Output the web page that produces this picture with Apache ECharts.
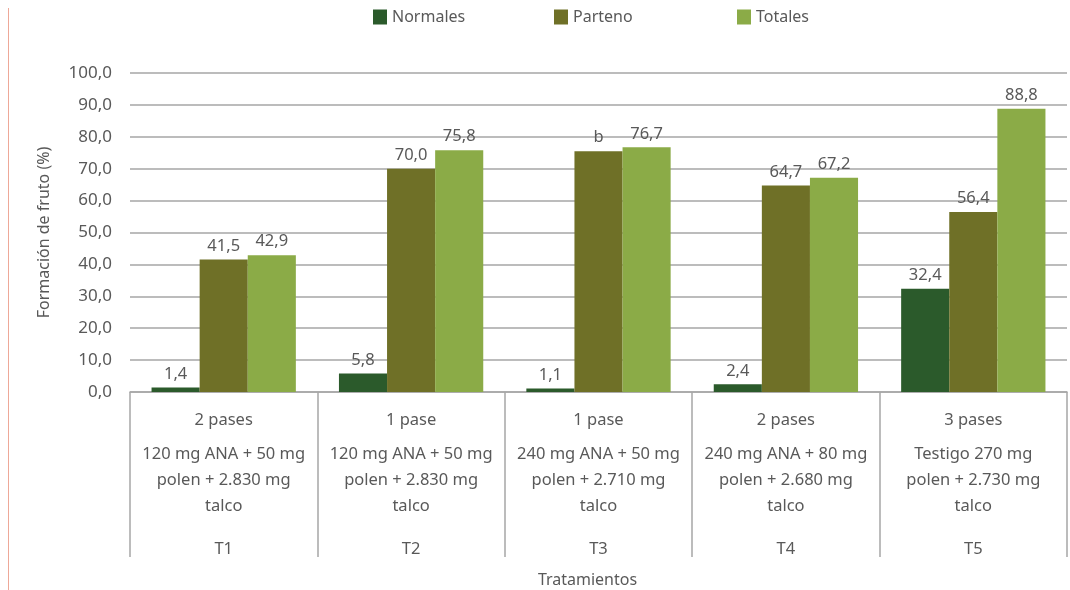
<!DOCTYPE html>
<html>
<head>
<meta charset="utf-8">
<script src="https://cdn.jsdelivr.net/npm/echarts@6/dist/echarts.min.js"></script>
<style>
  html, body { margin: 0; padding: 0; background: #ffffff; }
  #chart { width: 1070px; height: 590px; }
</style>
</head>
<body>
<div id="chart"></div>
<script>
// Treatments: number of passes, mixture and code
const pases = ['2 pases', '1 pase', '1 pase', '2 pases', '3 pases'];
const mezclas = [
  ['120 mg ANA + 50 mg', 'polen + 2.830 mg', 'talco'],
  ['120 mg ANA + 50 mg', 'polen + 2.830 mg', 'talco'],
  ['240 mg ANA + 50 mg', 'polen + 2.710 mg', 'talco'],
  ['240 mg ANA + 80 mg', 'polen + 2.680 mg', 'talco'],
  ['Testigo 270 mg', 'polen + 2.730 mg', 'talco']
];
const codigos = ['T1', 'T2', 'T3', 'T4', 'T5'];

// Series names and fruit set (%) per treatment
const nombres = ['Normales', 'Parteno', 'Totales'];
const normales = [1.4, 5.8, 1.1, 2.4, 32.4];
const parteno = [41.5, 70.0, 75.5, 64.7, 56.4];
const totales = [42.9, 75.8, 76.7, 67.2, 88.8];

// Text shown instead of the number above a bar (series index -> data index -> text)
const etiquetasEspeciales = { 1: { 2: 'b' } };

const yTicks = { min: 0, max: 100, interval: 10 };

const FONT = '"Noto Sans", "Open Sans", sans-serif';
const TEXT = '#595959';
const GRID = '#a6a6a6';
const colores = ['#2b5a2b', '#6f7027', '#8bab47'];
const FS = 16.5;

const coma = v => Number(v).toFixed(1).replace('.', ',');

const categorias = codigos.map((c, i) =>
  '{a|' + pases[i] + '}\n' + mezclas[i].map(l => '{b|' + l + '}').join('\n') + '\n{c|' + c + '}'
);

function serie(nombre, datos, idx) {
  return {
    name: nombre,
    type: 'bar',
    data: datos,
    barGap: 0,
    barCategoryGap: '23%',
    itemStyle: { color: colores[idx] },
    label: {
      show: true,
      position: 'top',
      distance: 5,
      color: TEXT,
      fontFamily: FONT,
      fontSize: FS,
      formatter: p => {
        const esp = etiquetasEspeciales[idx];
        if (esp && esp[p.dataIndex] !== undefined) return esp[p.dataIndex];
        return coma(p.value);
      }
    }
  };
}

// One legend per series so the entries sit at evenly spaced positions
const legendLeft = [368, 549, 732];
const legends = nombres.map((n, i) => ({
  left: legendLeft[i],
  top: 4,
  itemWidth: 14,
  itemHeight: 15,
  icon: 'rect',
  itemGap: 0,
  textStyle: { color: TEXT, fontSize: 16, fontFamily: FONT },
  data: [n]
}));

const chart = echarts.init(document.getElementById('chart'), null, { renderer: 'canvas' });
chart.setOption({
  animation: false,
  backgroundColor: '#ffffff',
  textStyle: { fontFamily: FONT },
  legend: legends,
  grid: { left: 130, right: 3, top: 73, bottom: 198, containLabel: false, outerBoundsMode: 'none' },
  xAxis: {
    type: 'category',
    data: categorias,
    boundaryGap: true,
    name: 'Tratamientos',
    nameLocation: 'middle',
    nameGap: 180,
    nameTextStyle: { color: TEXT, fontSize: 16, fontFamily: FONT, padding: [0, 22, 0, 0] },
    axisLine: { show: true, lineStyle: { color: GRID, width: 1.5 } },
    axisTick: { show: true, interval: 0, length: 165, lineStyle: { color: GRID, width: 1.5 } },
    axisLabel: {
      interval: 0,
      margin: 7,
      color: TEXT,
      fontFamily: FONT,
      fontSize: FS,
      rich: {
        a: { fontSize: FS, lineHeight: 42, color: TEXT, fontFamily: FONT },
        b: { fontSize: FS, lineHeight: 26, color: TEXT, fontFamily: FONT },
        c: { fontSize: FS, lineHeight: 60, color: TEXT, fontFamily: FONT }
      }
    }
  },
  yAxis: {
    type: 'value',
    min: yTicks.min,
    max: yTicks.max,
    interval: yTicks.interval,
    name: 'Formación de fruto (%)',
    nameLocation: 'middle',
    nameGap: 78,
    nameRotate: 90,
    nameTextStyle: { color: TEXT, fontSize: 16, fontFamily: FONT },
    axisLine: { show: false },
    axisTick: { show: false },
    axisLabel: { color: TEXT, fontSize: 17, fontFamily: FONT, margin: 18, formatter: v => coma(v) },
    splitLine: { show: true, lineStyle: { color: GRID, width: 1.5 } }
  },
  graphic: [{
    type: 'line',
    shape: { x1: 8.5, y1: 8, x2: 8.5, y2: 590 },
    style: { stroke: '#eea898', lineWidth: 1 }
  }],
  series: [
    serie(nombres[0], normales, 0),
    serie(nombres[1], parteno, 1),
    serie(nombres[2], totales, 2)
  ]
});
</script>
</body>
</html>
